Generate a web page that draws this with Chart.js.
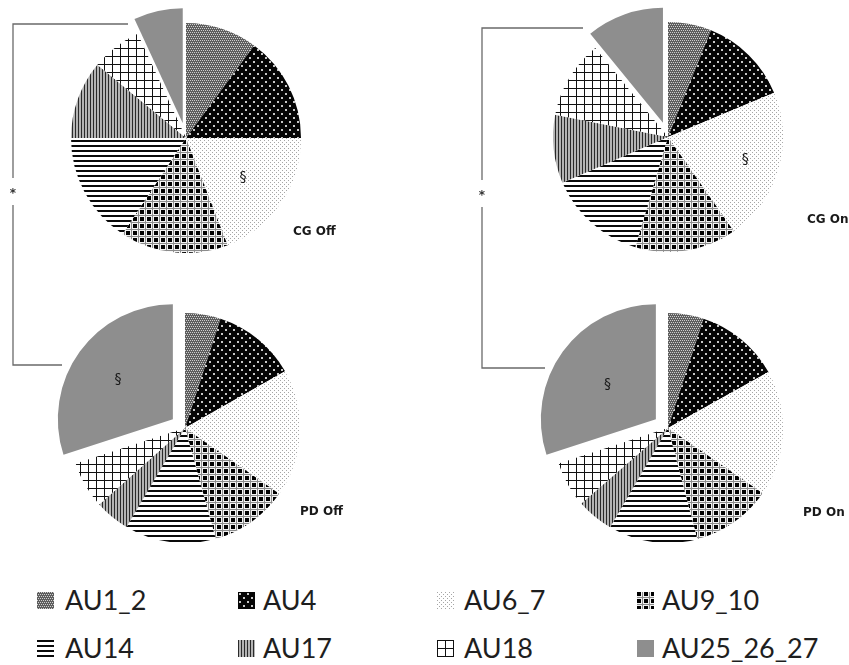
<!DOCTYPE html>
<html>
<head>
<meta charset="utf-8">
<title>Action unit distribution</title>
<script src="https://cdn.jsdelivr.net/npm/chart.js@4.4.1/dist/chart.umd.min.js"></script>
<style>
  html, body { margin: 0; padding: 0; background: #fff; }
  #wrap { position: relative; width: 849px; height: 665px; overflow: hidden; background: #fff; }
  .pie { position: absolute; left: 0; top: 0; }
  .sw { position: absolute; }
  .lbl { position: absolute; font-family: Lato, "Open Sans", sans-serif; font-size: 27px; line-height: 30px; color: #1e1e1e; white-space: nowrap; }
</style>
</head>
<body>
<div id="wrap">
  <canvas id="pie0" class="pie" width="849" height="575"></canvas>
  <canvas id="pie1" class="pie" width="849" height="575"></canvas>
  <canvas id="pie2" class="pie" width="849" height="575"></canvas>
  <canvas id="pie3" class="pie" width="849" height="575"></canvas>
  <div id="legend"></div>
</div>
<script>
// Facial action units and their share (%) in each condition
const categories = ['AU1_2', 'AU4', 'AU6_7', 'AU9_10', 'AU14', 'AU17', 'AU18', 'AU25_26_27'];
const cgOff = [10.1, 14.9, 19.1, 15.2, 15.7, 11.0, 7.1, 6.9];
const cgOn  = [6.1, 12.6, 21.6, 14.3, 13.9, 9.6, 11.0, 10.9];
const pdOff = [5.0, 11.8, 17.9, 11.0, 12.8, 4.9, 6.6, 30.0];
const pdOn  = [5.0, 11.9, 17.7, 11.3, 12.5, 5.2, 6.4, 30.0];
const panelTitles = ['CG Off', 'CG On', 'PD Off', 'PD On'];
// index of the slice flagged with a section mark in each panel
const markedSlice = [2, 2, 7, 7];
const significanceMark = '*';
const sectionMark = '\u00A7';

// ---- fill patterns -------------------------------------------------------
function tile(w, h, paint) {
  const c = document.createElement('canvas');
  c.width = w; c.height = h;
  const g = c.getContext('2d');
  paint(g, w, h);
  return g.createPattern(c, 'repeat');
}
const patterns = [
  // AU1_2: fine gray stipple
  tile(4, 4, (g) => {
    g.fillStyle = '#5e5e5e'; g.fillRect(0, 0, 4, 4);
    g.fillStyle = '#cfcfcf';
    g.fillRect(0, 0, 1, 1); g.fillRect(2, 0, 1, 1);
    g.fillRect(1, 2, 1, 1); g.fillRect(3, 2, 1, 1);
  }),
  // AU4: black with sparse light dots
  tile(8, 8, (g) => {
    g.fillStyle = '#050505'; g.fillRect(0, 0, 8, 8);
    g.fillStyle = '#c8c8c8';
    g.fillRect(1, 1, 2, 2); g.fillRect(5, 5, 2, 2);
  }),
  // AU6_7: white with light gray dots
  tile(4, 4, (g) => {
    g.fillStyle = '#ffffff'; g.fillRect(0, 0, 4, 4);
    g.fillStyle = '#a6a6a6';
    g.fillRect(0, 0, 1, 1); g.fillRect(2, 2, 1, 1);
  }),
  // AU9_10: black squares on a gray grid
  tile(7, 7, (g) => {
    g.fillStyle = '#f2f2f2'; g.fillRect(0, 0, 7, 7);
    g.fillStyle = '#8c8c8c';
    g.fillRect(0, 5, 7, 1); g.fillRect(5, 0, 1, 7);
    g.fillStyle = '#000000'; g.fillRect(0, 0, 4, 4);
  }),
  // AU14: horizontal stripes
  tile(5, 5, (g) => {
    g.fillStyle = '#ffffff'; g.fillRect(0, 0, 5, 5);
    g.fillStyle = '#0a0a0a'; g.fillRect(0, 0, 5, 2);
  }),
  // AU17: fine vertical stripes
  tile(3, 3, (g) => {
    g.fillStyle = '#b4b4b4'; g.fillRect(0, 0, 3, 3);
    g.fillStyle = '#2a2a2a'; g.fillRect(0, 0, 1, 3);
  }),
  // AU18: open grid
  tile(8, 8, (g) => {
    g.fillStyle = '#ffffff'; g.fillRect(0, 0, 8, 8);
    g.fillStyle = '#111111';
    g.fillRect(0, 0, 8, 1); g.fillRect(0, 0, 1, 8);
  }),
  // AU25_26_27: plain gray
  '#8e8e8e'
];

// ---- panel layout --------------------------------------------------------
const CANVAS_W = 849, CANVAS_H = 575, HALF = 135, RADIUS = 115, EXPLODE = 15;
const panels = [
  { id: 'pie0', data: cgOff, cx: 186, cy: 138, tx: 107, ty: 94,  markFrac: 0.60 },
  { id: 'pie1', data: cgOn,  cx: 668, cy: 137, tx: 139, ty: 83,  markFrac: 0.70 },
  { id: 'pie2', data: pdOff, cx: 185, cy: 428, tx: 115, ty: 84,  markFrac: 0.59 },
  { id: 'pie3', data: pdOn,  cx: 668, cy: 428, tx: 135, ty: 85,  markFrac: 0.52 }
];

// pulls selected slices outward along their bisector without enlarging them
const explodeSlices = {
  id: 'explodeSlices',
  beforeDatasetsDraw(chart, args, opts) {
    const meta = chart.getDatasetMeta(0);
    meta.data.forEach((arc, k) => {
      const d = opts.distance[k] || 0;
      if (!d || arc.__exploded) return;
      const baseDraw = arc.draw.bind(arc);
      arc.draw = function (ctx) {
        const mid = (this.startAngle + this.endAngle) / 2;
        ctx.save();
        ctx.translate(Math.cos(mid) * d, Math.sin(mid) * d);
        baseDraw(ctx);
        ctx.restore();
      };
      arc.__exploded = true;
    });
  }
};

// panel caption and section mark
const panelMarks = {
  id: 'panelMarks',
  afterDatasetsDraw(chart, args, opts) {
    const ctx = chart.ctx;
    const meta = chart.getDatasetMeta(0);
    const first = meta.data[0];
    const cx = first.x, cy = first.y;
    ctx.save();
    ctx.fillStyle = '#1a1a1a';
    ctx.textBaseline = 'middle';
    ctx.textAlign = 'left';
    ctx.font = 'bold 12px "DejaVu Sans", sans-serif';
    ctx.fillText(opts.title, cx + opts.tx, cy + opts.ty);

    const arc = meta.data[opts.markIndex];
    const p = arc.getProps(['startAngle', 'endAngle', 'outerRadius'], true);
    const mid = (p.startAngle + p.endAngle) / 2;
    const off = opts.distance[opts.markIndex] || 0;
    const r = off + p.outerRadius * opts.markFrac;
    ctx.font = '14px "DejaVu Sans", sans-serif';
    ctx.textAlign = 'center';
    ctx.fillStyle = '#1a1a1a';
    ctx.fillText(sectionMark, cx + Math.cos(mid) * r, cy + Math.sin(mid) * r);
    ctx.restore();
  }
};

// significance brackets joining the Off and On panels of each column
const brackets = {
  id: 'brackets',
  afterDraw(chart, args, opts) {
    const ctx = chart.ctx;
    ctx.save();
    ctx.strokeStyle = '#6a6a6a';
    ctx.lineWidth = 1.3;
    opts.items.forEach((b) => {
      ctx.beginPath();
      ctx.moveTo(b.topEnd, b.top);
      ctx.lineTo(b.x, b.top);
      ctx.lineTo(b.x, b.gapTop);
      ctx.moveTo(b.x, b.gapBottom);
      ctx.lineTo(b.x, b.bottom);
      ctx.lineTo(b.bottomEnd, b.bottom);
      ctx.stroke();
      ctx.fillStyle = '#333';
      ctx.font = 'bold 12px "DejaVu Sans", sans-serif';
      ctx.textAlign = 'center';
      ctx.textBaseline = 'middle';
      ctx.fillText(significanceMark, b.x, (b.gapTop + b.gapBottom) / 2 + 2);
    });
    ctx.restore();
  }
};

panels.forEach((pn, i) => {
  const distance = categories.map((_, k) => (k === categories.length - 1 ? EXPLODE : 0));
  new Chart(document.getElementById(pn.id), {
    type: 'pie',
    data: {
      labels: categories,
      datasets: [{
        data: pn.data,
        backgroundColor: patterns,
        borderWidth: 0
      }]
    },
    options: {
      responsive: false,
      animation: false,
      events: [],
      radius: RADIUS,
      layout: {
        padding: {
          left: pn.cx - HALF,
          right: CANVAS_W - (pn.cx + HALF),
          top: pn.cy - HALF,
          bottom: CANVAS_H - (pn.cy + HALF)
        }
      },
      plugins: {
        legend: { display: false },
        tooltip: { enabled: false },
        explodeSlices: { distance },
        panelMarks: { title: panelTitles[i], tx: pn.tx, ty: pn.ty, markIndex: markedSlice[i], markFrac: pn.markFrac, distance },
        brackets: {
          items: i === 0 ? [
            { x: 13,  top: 24, topEnd: 128, bottom: 365, bottomEnd: 62,  gapTop: 178, gapBottom: 205 },
            { x: 482, top: 28, topEnd: 583, bottom: 368, bottomEnd: 545, gapTop: 180, gapBottom: 207 }
          ] : []
        }
      }
    },
    plugins: [explodeSlices, panelMarks, brackets]
  });
});

// ---- legend --------------------------------------------------------------
const legend = document.getElementById('legend');
const colX = [37, 238, 437, 637];
const textX = [65, 263, 464, 662];
const rowY = [601, 649];
categories.forEach((name, k) => {
  const col = k % 4, row = Math.floor(k / 4);
  const sw = document.createElement('canvas');
  sw.width = 17; sw.height = 17;
  sw.className = 'sw';
  sw.style.left = colX[col] + 'px';
  sw.style.top = (rowY[row] - 9) + 'px';
  const g = sw.getContext('2d');
  g.fillStyle = patterns[k];
  g.fillRect(0, 0, 17, 17);
  if (name === 'AU18') {
    g.strokeStyle = '#111'; g.lineWidth = 1;
    g.strokeRect(0.5, 0.5, 16, 16);
  }
  legend.appendChild(sw);
  const t = document.createElement('div');
  t.className = 'lbl';
  t.textContent = name;
  t.style.left = textX[col] + 'px';
  t.style.top = (rowY[row] - 16) + 'px';
  legend.appendChild(t);
});
</script>
</body>
</html>
